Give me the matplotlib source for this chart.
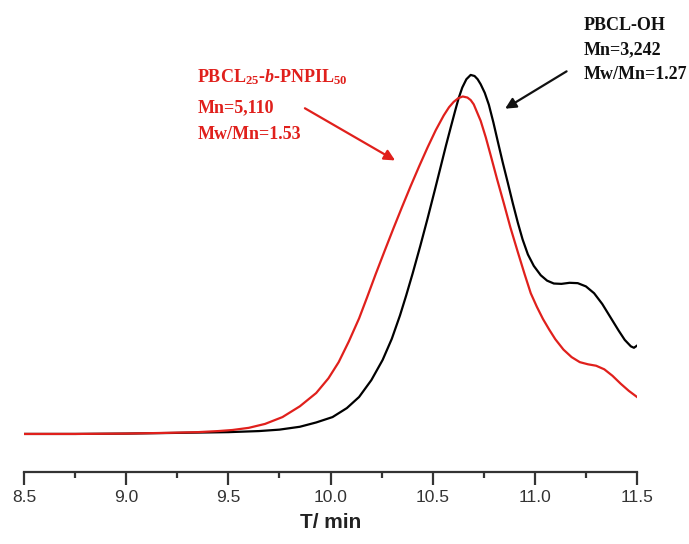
import numpy as np
import matplotlib
matplotlib.use('Agg')
import matplotlib.pyplot as plt

# elution traces (time in min, normalised RI signal)
t_oh = [8.5, 8.75, 9.0, 9.25, 9.5, 9.65, 9.75, 9.85, 9.93, 10.01, 10.08, 10.14,
        10.2, 10.255, 10.3, 10.34, 10.37, 10.402, 10.44, 10.475, 10.51, 10.54,
        10.565, 10.588, 10.61, 10.627, 10.645, 10.665, 10.686, 10.705, 10.72,
        10.735, 10.755, 10.775, 10.797, 10.819, 10.843, 10.868, 10.892, 10.917,
        10.94, 10.966, 10.995, 11.029, 11.06, 11.093, 11.13, 11.17, 11.21, 11.25,
        11.29, 11.33, 11.37, 11.41, 11.44, 11.47, 11.485, 11.5]
y_oh = [0.0, 0.0, 0.001, 0.003, 0.005, 0.008, 0.012, 0.02, 0.032, 0.047, 0.072, 0.103,
        0.15, 0.206, 0.265, 0.33, 0.385, 0.447, 0.525, 0.6, 0.678, 0.746,
        0.803, 0.853, 0.9, 0.935, 0.965, 0.988, 1.0, 0.997, 0.988,
        0.974, 0.95, 0.917, 0.868, 0.814, 0.756, 0.699, 0.643, 0.588,
        0.542, 0.5, 0.468, 0.442, 0.427, 0.419, 0.418, 0.421, 0.42, 0.411,
        0.392, 0.362, 0.325, 0.288, 0.262, 0.244, 0.24, 0.246]

t_il = [8.5, 8.75, 9.0, 9.2, 9.35, 9.45, 9.52, 9.6, 9.68, 9.765, 9.85, 9.93,
        9.99, 10.04, 10.09, 10.14, 10.18, 10.221, 10.265, 10.309, 10.35, 10.392,
        10.435, 10.475, 10.515, 10.554, 10.58, 10.603, 10.625, 10.647, 10.67,
        10.686, 10.701, 10.735, 10.76, 10.784, 10.815, 10.848, 10.88, 10.917,
        10.95, 10.98, 11.01, 11.04, 11.07, 11.1, 11.14, 11.18, 11.22, 11.26,
        11.3, 11.34, 11.38, 11.42, 11.46, 11.5]
y_il = [0.0, 0.0, 0.001, 0.003, 0.005, 0.008, 0.011, 0.017, 0.028, 0.047, 0.077, 0.114,
        0.155, 0.2, 0.258, 0.322, 0.382, 0.445, 0.51, 0.574, 0.632, 0.69,
        0.747, 0.798, 0.846, 0.887, 0.91, 0.925, 0.935, 0.94, 0.937,
        0.93, 0.918, 0.872, 0.826, 0.776, 0.71, 0.643, 0.576, 0.506,
        0.445, 0.392, 0.354, 0.32, 0.291, 0.264, 0.235, 0.214, 0.2, 0.194,
        0.19, 0.18, 0.162, 0.14, 0.12, 0.103]

ticks = [8.5, 9.0, 9.5, 10.0, 10.5, 11.0, 11.5]
red = '#e0201c'

plt.rcParams['mathtext.fontset'] = 'custom'
plt.rcParams['mathtext.rm'] = 'Liberation Serif:bold'
plt.rcParams['mathtext.it'] = 'Liberation Serif:italic:bold'
plt.rcParams['mathtext.bf'] = 'Liberation Serif:bold'

fig = plt.figure(figsize=(6.89, 5.44), dpi=100)
ax = fig.add_axes([24 / 689, 72 / 544, 613 / 689, 452 / 544])

ax.plot(t_oh, y_oh, color='black', lw=1.6, solid_joinstyle='round')
ax.plot(t_il, y_il, color=red, lw=1.6, solid_joinstyle='round')

ax.set_xlim(8.5, 11.5)
ax.set_ylim(-0.106, 1.153)

for s in ['top', 'right', 'left']:
    ax.spines[s].set_visible(False)
ax.spines['bottom'].set_color('#333333')
ax.spines['bottom'].set_linewidth(1.6)
ax.set_yticks([])
ax.set_xticks(ticks)
ax.set_xticklabels([f'{v:.1f}' for v in ticks], fontsize=12.5,
                   family='Liberation Sans', color='#333333')
ax.set_xticks(np.arange(8.75, 11.5, 0.5), minor=True)
ax.tick_params(axis='x', which='major', direction='out', length=9, width=1.6,
               color='#333333', pad=4)
ax.tick_params(axis='x', which='minor', direction='out', length=4, width=1.6,
               color='#333333')
ax.set_xlabel('T/ min', fontsize=15, fontweight='bold', family='Liberation Sans',
              color='#222222', labelpad=6)

# sample labels
txt = dict(family='Liberation Serif', fontweight='bold', fontsize=13, va='center')
ax.text(9.348, 0.994, r'PBCL$_{25}$-$b$-PNPIL$_{50}$', color=red, **txt)
ax.text(9.348, 0.908, 'Mn=5,110', color=red, **txt)
ax.text(9.348, 0.833, 'Mw/Mn=1.53', color=red, **txt)
ax.annotate('', xy=(10.328, 0.758), xytext=(9.863, 0.911),
            arrowprops=dict(arrowstyle='-|>', color=red, lw=1.6, mutation_scale=16))

ax.text(11.24, 1.139, 'PBCL-OH', color='#111111', **txt)
ax.text(11.24, 1.070, 'Mn=3,242', color='#111111', **txt)
ax.text(11.24, 1.000, 'Mw/Mn=1.27', color='#111111', **txt)
ax.annotate('', xy=(10.843, 0.902), xytext=(11.167, 1.014),
            arrowprops=dict(arrowstyle='-|>', color='#111111', lw=1.6, mutation_scale=16))

fig.savefig('out.png', dpi=100)
